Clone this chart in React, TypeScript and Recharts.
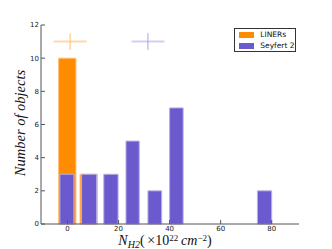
import React from 'react';
import { ComposedChart, XAxis, YAxis, ReferenceArea, Scatter, ErrorBar, Legend, Label } from 'recharts';

// histogram bins (N_H2 in 1e22 cm^-2)
const linerStart = [-3.5, 4.9];
const linerEnd = [3.3, 11.7];
const linerCounts = [10, 3];

const seyfertStart = [-3.0, 5.5, 14.2, 22.9, 31.5, 40.0, 74.4];
const seyfertEnd = [2.5, 11.4, 19.8, 28.1, 36.9, 45.3, 80.0];
const seyfertCounts = [3, 3, 3, 5, 2, 7, 2];

// mean +/- spread markers
const linerMean = [{ x: 1.0, y: 11, xe: 6.5, ye: 0.5 }];
const seyfertMean = [{ x: 31.5, y: 11, xe: 6.4, ye: 0.5 }];

const xTicks = [0, 20, 40, 60, 80];
const yTicks = [0, 2, 4, 6, 8, 10, 12];

const ORANGE = '#FF8C00';
const PURPLE = '#6A5ACD';
const FRAME = '#555';
const tickFont = { fontSize: 7, fill: '#222', fontFamily: 'DejaVu Sans' };

const noTick = () => <g />;

function XTitle({ viewBox }: any) {
    const cx = viewBox.x + viewBox.width / 2 - 5;
    return (
        <text x={cx} y={245} textAnchor="middle" fontFamily="Liberation Serif" fontSize={14} fill="#111">
            <tspan fontStyle="italic">N</tspan>
            <tspan fontStyle="italic" fontSize={10} dy={2.5}>H2</tspan>
            <tspan dy={-2.5}>(&#8201;×10</tspan>
            <tspan fontSize={9} dy={-4.5}>22</tspan>
            <tspan fontStyle="italic" dy={4.5}>&#8201;cm</tspan>
            <tspan fontSize={9} dy={-4.5}>−2</tspan>
            <tspan dy={4.5}>)</tspan>
        </text>
    );
}

function YTitle() {
    return (
        <text
            x={22}
            y={123}
            transform="rotate(-90 22 123)"
            textAnchor="middle"
            dominantBaseline="middle"
            fontFamily="Liberation Serif"
            fontStyle="italic"
            fontSize={14.5}
            fill="#111"
        >
            Number of objects
        </text>
    );
}

function LegendBox() {
    const row = (color: string, label: string, top: number) => (
        <div style={{ position: 'absolute', left: 3, top, height: 6, width: 58 }}>
            <div style={{ position: 'absolute', left: 0.7, top: 0, width: 15, height: 5.5, background: color }} />
            <div
                style={{
                    position: 'absolute',
                    left: 22.3,
                    top: -3,
                    fontSize: 7.5,
                    lineHeight: '11px',
                    fontFamily: 'DejaVu Sans',
                    color: '#111',
                    whiteSpace: 'nowrap'
                }}
            >
                {label}
            </div>
        </div>
    );
    return (
        <div
            style={{
                position: 'relative',
                width: 62,
                height: 24,
                boxSizing: 'border-box',
                border: '1px solid #333',
                background: '#fff'
            }}
        >
            {row(ORANGE, 'LINERs', 3.3)}
            {row(PURPLE, 'Seyfert 2', 14)}
        </div>
    );
}

export default function App() {
    return (
        <div style={{ position: 'absolute', left: 0, top: 0, width: 332, height: 249, background: '#fff' }}>
            <ComposedChart width={332} height={249} margin={{ top: 25, right: 33, bottom: 0, left: 0 }}>
                <XAxis
                    xAxisId="b"
                    dataKey="x"
                    type="number"
                    domain={[-10.4, 90.7]}
                    ticks={xTicks}
                    allowDataOverflow
                    height={25}
                    stroke={FRAME}
                    tickSize={-4}
                    tickMargin={6}
                    tick={tickFont}
                >
                    <Label content={XTitle} />
                </XAxis>
                <XAxis
                    xAxisId="t"
                    orientation="top"
                    type="number"
                    domain={[-10.4, 90.7]}
                    ticks={xTicks}
                    allowDataOverflow
                    height={0}
                    stroke={FRAME}
                    tickSize={-4}
                    tick={noTick}
                />
                <YAxis
                    yAxisId="l"
                    dataKey="y"
                    type="number"
                    domain={[0, 12]}
                    ticks={yTicks}
                    allowDataOverflow
                    width={41}
                    stroke={FRAME}
                    tickSize={-4}
                    tickMargin={6}
                    tick={tickFont}
                >
                    <Label content={YTitle} />
                </YAxis>
                <YAxis
                    yAxisId="r"
                    orientation="right"
                    type="number"
                    domain={[0, 12]}
                    ticks={yTicks}
                    allowDataOverflow
                    width={0}
                    stroke={FRAME}
                    tickSize={-4}
                    tick={noTick}
                />

                {linerCounts.map((c, i) => (
                    <ReferenceArea
                        key={'l' + i}
                        xAxisId="b"
                        yAxisId="l"
                        x1={linerStart[i]}
                        x2={linerEnd[i]}
                        y1={0}
                        y2={c}
                        fill={ORANGE}
                        fillOpacity={1}
                        stroke="#FFC07A"
                        strokeWidth={1}
                    />
                ))}
                {seyfertCounts.map((c, i) => (
                    <ReferenceArea
                        key={'s' + i}
                        xAxisId="b"
                        yAxisId="l"
                        x1={seyfertStart[i]}
                        x2={seyfertEnd[i]}
                        y1={0}
                        y2={c}
                        fill={PURPLE}
                        fillOpacity={1}
                        stroke="#B8AFE8"
                        strokeWidth={1}
                    />
                ))}

                <Scatter xAxisId="b" yAxisId="l" data={linerMean} shape={noTick} isAnimationActive={false} legendType="none">
                    <ErrorBar dataKey="xe" direction="x" width={0} stroke="#FFD9AA" strokeWidth={2} isAnimationActive={false} />
                    <ErrorBar dataKey="ye" direction="y" width={0} stroke="#FFBE70" strokeWidth={1} isAnimationActive={false} />
                </Scatter>
                <Scatter xAxisId="b" yAxisId="l" data={seyfertMean} shape={noTick} isAnimationActive={false} legendType="none">
                    <ErrorBar dataKey="xe" direction="x" width={0} stroke="#D4CFF2" strokeWidth={2} isAnimationActive={false} />
                    <ErrorBar dataKey="ye" direction="y" width={0} stroke="#ADA3E4" strokeWidth={1} isAnimationActive={false} />
                </Scatter>

                <Legend
                    layout="horizontal"
                    verticalAlign="middle"
                    align="center"
                    content={LegendBox}
                    wrapperStyle={{ position: 'absolute', left: 234, top: 28, width: 62, height: 24 }}
                />
            </ComposedChart>
        </div>
    );
}
